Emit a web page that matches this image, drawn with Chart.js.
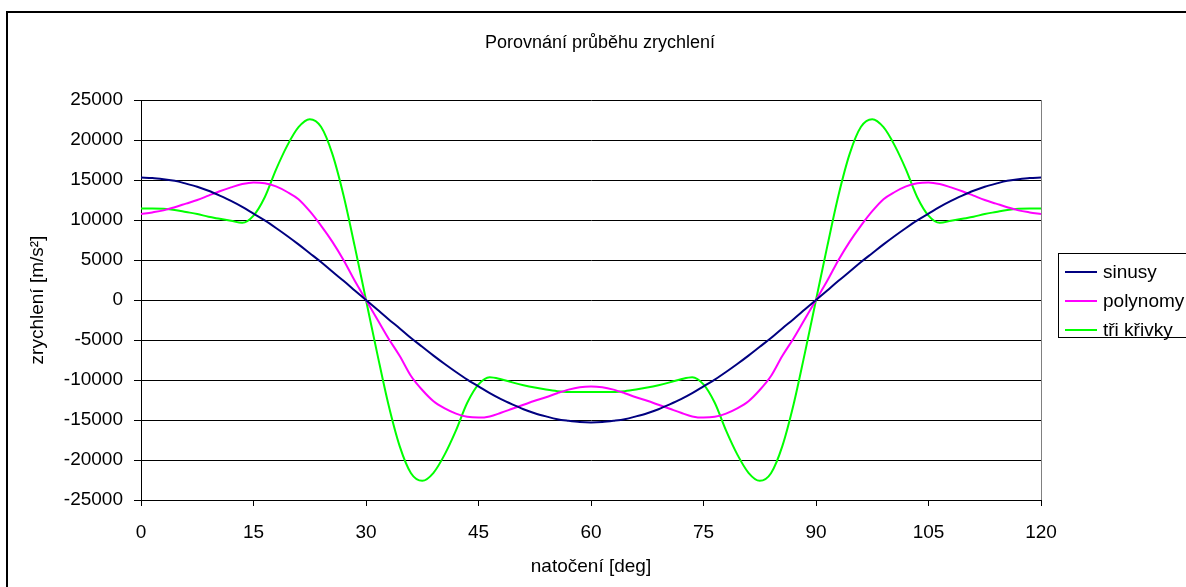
<!DOCTYPE html>
<html>
<head>
<meta charset="utf-8">
<script src="https://cdn.jsdelivr.net/npm/chart.js@4/dist/chart.umd.min.js"></script>
<style>
  body { margin: 0; background: #fff; }
  #wrap { width: 1186px; height: 587px; }
</style>
</head>
<body>
<div id="wrap"><canvas id="accChart" width="1186" height="587"></canvas></div>
<script>
// natočení [deg], krok 1.5
const angles = [];
for (let i = 0; i <= 80; i++) angles.push(i * 1.5);

const sinusy = [
  15300, 15250, 15100, 14900, 14550, 14150, 13650, 13050, 12400, 11650, 10800,
  9950, 9000, 8000, 6950, 5850, 4750, 3550, 2400, 1200, 0,
  -1200, -2400, -3550, -4750, -5850, -6950, -8000, -9000, -9950, -10800,
  -11650, -12400, -13050, -13650, -14150, -14550, -14900, -15100, -15250, -15300,
  -15250, -15100, -14900, -14550, -14150, -13650, -13050, -12400, -11650, -10800,
  -9950, -9000, -8000, -6950, -5850, -4750, -3550, -2400, -1200, 0,
  1200, 2400, 3550, 4750, 5850, 6950, 8000, 9000, 9950, 10800,
  11650, 12400, 13050, 13650, 14150, 14550, 14900, 15100, 15250, 15300
];

const polynomy = [
  10750, 10950, 11200, 11600, 12050, 12500, 13050, 13600, 14080, 14500, 14700,
  14600, 14200, 13500, 12600, 11100, 9300, 7300, 5000, 2400, 0,
  -2400, -4800, -7000, -9500, -11250, -12650, -13550, -14200, -14600, -14700,
  -14550, -14100, -13600, -13100, -12600, -12150, -11650, -11200, -10900, -10800,
  -10900, -11200, -11650, -12150, -12600, -13100, -13600, -14100, -14550, -14700,
  -14600, -14200, -13550, -12650, -11250, -9500, -7000, -4800, -2400, 0,
  2400, 5000, 7300, 9300, 11100, 12600, 13500, 14200, 14600, 14700,
  14500, 14080, 13600, 13050, 12500, 12050, 11600, 11200, 10950, 10750
];

const triKrivky = [
  11450, 11450, 11400, 11250, 11000, 10750, 10400, 10150, 9900, 9650, 10550,
  12850, 16300, 19300, 21600, 22600, 21650, 18300, 13100, 6700, 0,
  -6700, -13100, -18300, -21650, -22600, -21600, -19300, -16300, -12850, -10550,
  -9650, -9900, -10300, -10650, -10950, -11200, -11400, -11500, -11500, -11500,
  -11500, -11500, -11400, -11200, -10950, -10650, -10300, -9900, -9650, -10550,
  -12850, -16300, -19300, -21600, -22600, -21650, -18300, -13100, -6700, 0,
  6700, 13100, 18300, 21650, 22600, 21600, 19300, 16300, 12850, 10550,
  9650, 9900, 10150, 10400, 10750, 11000, 11250, 11400, 11450, 11450
];

const seriesNames = ['sinusy', 'polynomy', 'tři křivky'];
const seriesColors = ['#000080', '#ff00ff', '#00ff00'];
const xTicks = [0, 15, 30, 45, 60, 75, 90, 105, 120];

const FONT = '"Liberation Sans", Arial, sans-serif';

function toPoints(values) {
  return angles.map((x, i) => ({ x: x, y: values[i] }));
}

// ramecek, titulek, okraj plochy a legenda
const decor = {
  id: 'decor',
  beforeDraw(chart) {
    const ctx = chart.ctx;
    ctx.save();
    ctx.fillStyle = '#fff';
    ctx.fillRect(0, 0, chart.width, chart.height);
    ctx.restore();
  },
  afterDatasetsDraw(chart) {
    const ctx = chart.ctx;
    const a = chart.chartArea;
    ctx.save();
    ctx.strokeStyle = '#808080';
    ctx.lineWidth = 1;
    ctx.beginPath();
    ctx.moveTo(Math.round(a.right) + 0.5, a.top);
    ctx.lineTo(Math.round(a.right) + 0.5, a.bottom);
    ctx.stroke();
    ctx.restore();
  },
  afterDraw(chart) {
    const ctx = chart.ctx;
    ctx.save();
    // vnejsi ramecek
    ctx.strokeStyle = '#000';
    ctx.lineWidth = 2;
    ctx.beginPath();
    ctx.moveTo(7, chart.height + 5);
    ctx.lineTo(7, 12);
    ctx.lineTo(chart.width + 5, 12);
    ctx.stroke();

    // titulek
    ctx.fillStyle = '#000';
    ctx.font = '18px ' + FONT;
    ctx.textAlign = 'center';
    ctx.textBaseline = 'middle';
    ctx.fillText('Porovnání průběhu zrychlení', 600, 43);

    // legenda
    ctx.lineWidth = 1;
    ctx.strokeRect(1058.5, 253.5, 200, 84);
    const rows = [272, 301, 330];
    ctx.font = '19px ' + FONT;
    ctx.textAlign = 'left';
    chart.data.datasets.forEach((ds, i) => {
      ctx.strokeStyle = ds.borderColor;
      ctx.lineWidth = 2;
      ctx.beginPath();
      ctx.moveTo(1065, rows[i]);
      ctx.lineTo(1097, rows[i]);
      ctx.stroke();
      ctx.fillStyle = '#000';
      ctx.fillText(ds.label, 1103, rows[i] + 1);
    });
    ctx.restore();
  }
};

const ctx = document.getElementById('accChart').getContext('2d');

new Chart(ctx, {
  type: 'line',
  data: {
    datasets: [sinusy, polynomy, triKrivky].map((vals, i) => ({
      label: seriesNames[i],
      data: toPoints(vals),
      borderColor: seriesColors[i],
      backgroundColor: seriesColors[i],
      borderWidth: 2,
      pointRadius: 0,
      fill: false,
      cubicInterpolationMode: 'monotone'
    }))
  },
  options: {
    responsive: false,
    animation: false,
    layout: { padding: { top: 100, right: 145, left: 0, bottom: 0 } },
    plugins: {
      legend: { display: false },
      title: { display: false },
      tooltip: { enabled: false }
    },
    scales: {
      x: {
        type: 'linear',
        min: 0,
        max: 120,
        afterFit(scale) { scale.height = 87; },
        afterBuildTicks(scale) { scale.ticks = xTicks.map(v => ({ value: v })); },
        grid: {
          drawOnChartArea: false,
          drawTicks: true,
          tickLength: 6,
          color: '#000'
        },
        border: { display: true, color: '#000', width: 1 },
        ticks: {
          color: '#000',
          padding: 15,
          maxRotation: 0,
          font: { family: FONT, size: 19 },
          callback: v => String(v)
        },
        title: {
          display: true,
          text: 'natočení [deg]',
          color: '#000',
          font: { family: FONT, size: 19 },
          padding: { top: 0, bottom: 9 }
        }
      },
      y: {
        min: -25000,
        max: 25000,
        afterFit(scale) { scale.width = 141; },
        grid: {
          color: '#000',
          lineWidth: 1,
          drawTicks: true,
          tickLength: 7
        },
        border: { display: true, color: '#000', width: 1 },
        ticks: {
          stepSize: 5000,
          color: '#000',
          padding: 11,
          font: { family: FONT, size: 19 },
          callback: v => String(v)
        },
        title: {
          display: true,
          text: 'zrychlení [m/s²]',
          color: '#000',
          font: { family: FONT, size: 19 },
          padding: { top: 26, bottom: 0 }
        }
      }
    }
  },
  plugins: [decor]
});
</script>
</body>
</html>
